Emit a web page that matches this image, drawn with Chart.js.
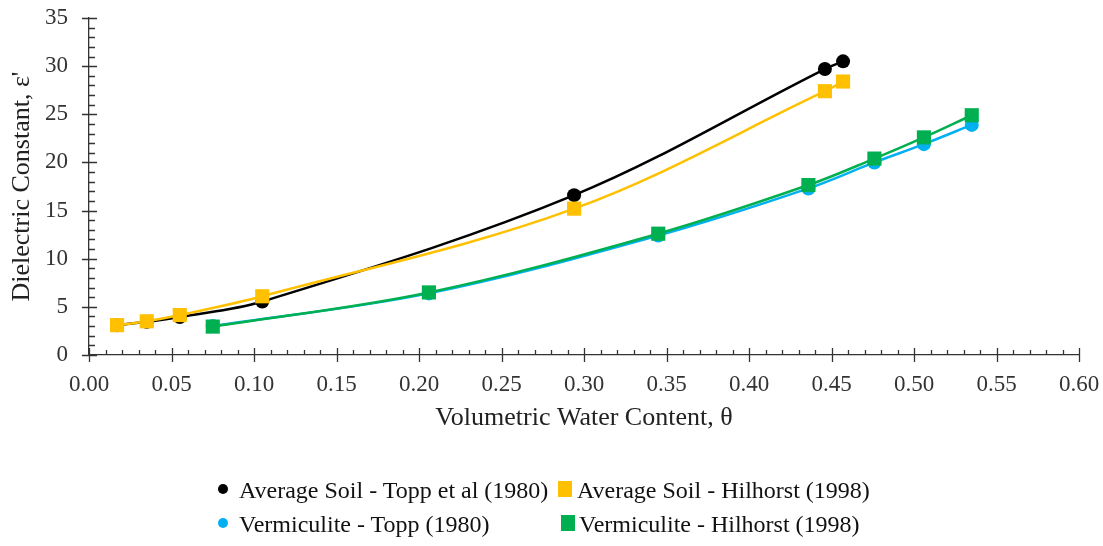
<!DOCTYPE html>
<html>
<head>
<meta charset="utf-8">
<script src="https://cdn.jsdelivr.net/npm/chart.js@4.4.1/dist/chart.umd.min.js"></script>
<style>
  html, body { margin: 0; padding: 0; background: #fff; }
  #wrap { position: relative; width: 1103px; height: 546px; overflow: hidden; }
  #c { position: absolute; left: 0; top: 0; }
  .lg { position: absolute; font-family: "Liberation Serif", "Times New Roman", serif; font-size: 24px; line-height: 24px; color: #111; white-space: nowrap; }
  .mk { position: absolute; }
</style>
</head>
<body>
<div id="wrap">
  <canvas id="c" width="1103" height="546"></canvas>
  <div id="legend"></div>
</div>
<script>
// ---- data ----
const avgTheta      = [0.017, 0.035, 0.055, 0.105, 0.294, 0.446, 0.457];
const avgTopp       = [3.1, 3.45, 3.95, 5.55, 16.6, 29.7, 30.5];
const avgHilhorst   = [3.1, 3.5, 4.15, 6.1, 15.2, 27.4, 28.4];
const vermTheta     = [0.075, 0.206, 0.345, 0.436, 0.476, 0.506, 0.535];
const vermTopp      = [3.0, 6.4, 12.4, 17.3, 20.0, 21.9, 23.9];
const vermHilhorst  = [2.95, 6.5, 12.6, 17.65, 20.4, 22.6, 24.9];

const seriesLabels = [
  "Average Soil - Topp et al (1980)",
  "Average Soil - Hilhorst (1998)",
  "Vermiculite - Topp (1980)",
  "Vermiculite - Hilhorst (1998)"
];
const seriesColors = ["#000000", "#FFC000", "#00B0F0", "#00B050"];
const seriesShapes = ["circle", "rect", "circle", "rect"];

const xMin = 0, xMax = 0.6, xStep = 0.05, xMinor = 0.01;
const yMin = 0, yMax = 35, yStep = 5, yMinor = 1;

const pts = (xs, ys) => xs.map((x, i) => ({ x: x, y: ys[i] }));
const seriesData = [
  pts(avgTheta, avgTopp),
  pts(avgTheta, avgHilhorst),
  pts(vermTheta, vermTopp),
  pts(vermTheta, vermHilhorst)
];

const datasets = seriesData.map((d, i) => ({
  label: seriesLabels[i],
  data: d,
  showLine: true,
  borderColor: seriesColors[i],
  backgroundColor: seriesColors[i],
  borderWidth: 2.5,
  pointStyle: seriesShapes[i],
  pointRadius: seriesShapes[i] === "rect" ? 10 : 7,
  pointBorderWidth: 0,
  tension: 0.35,
  order: 4 - i
}));

const FONT = "'Liberation Serif', 'Times New Roman', serif";
const AXIS = "#333333";

// minor / major tick marks drawn at scale positions
const tickPlugin = {
  id: "tickMarks",
  afterDraw(chart) {
    const ctx = chart.ctx;
    const xs = chart.scales.x, ys = chart.scales.y;
    const y0 = ys.getPixelForValue(yMin);
    const x0 = xs.getPixelForValue(xMin);
    ctx.save();
    ctx.strokeStyle = AXIS;
    ctx.lineWidth = 1.3;
    ctx.beginPath();
    const nx = Math.round((xMax - xMin) / xMinor);
    const per = Math.round(xStep / xMinor);
    for (let i = 0; i <= nx; i++) {
      const px = Math.round(xs.getPixelForValue(xMin + i * xMinor)) + 0.5;
      if (i % per === 0) { ctx.moveTo(px, y0 - 7); ctx.lineTo(px, y0 + 7); }
      else { ctx.moveTo(px, y0 - 5); ctx.lineTo(px, y0); }
    }
    const ny = Math.round((yMax - yMin) / yMinor);
    const pery = Math.round(yStep / yMinor);
    for (let j = 0; j <= ny; j++) {
      const py = Math.round(ys.getPixelForValue(yMin + j * yMinor)) + 0.5;
      if (j % pery === 0) { ctx.moveTo(x0 - 7, py); ctx.lineTo(x0 + 8, py); }
      else { ctx.moveTo(x0, py); ctx.lineTo(x0 + 6, py); }
    }
    ctx.stroke();
    ctx.restore();
  }
};

new Chart(document.getElementById("c"), {
  type: "line",
  data: { datasets: datasets },
  plugins: [tickPlugin],
  options: {
    responsive: false,
    animation: false,
    layout: { padding: { top: 18, right: 24, left: 0, bottom: 106 } },
    plugins: { legend: { display: false }, tooltip: { enabled: false } },
    scales: {
      x: {
        type: "linear",
        min: xMin, max: xMax,
        grid: { display: false, drawTicks: false },
        border: { display: true, color: AXIS, width: 1.3 },
        ticks: {
          stepSize: xStep,
          padding: 16,
          color: "#333",
          font: { family: FONT, size: 23 },
          callback: v => Number(v).toFixed(2),
          maxRotation: 0
        },
        title: {
          display: true,
          text: "Volumetric Water Content, θ",
          color: "#222",
          font: { family: FONT, size: 26 },
          padding: { top: 0, bottom: 6 }
        },
        afterFit(s) { s.height = 85; s.paddingLeft = 0; s.paddingRight = 0; }
      },
      y: {
        type: "linear",
        min: yMin, max: yMax,
        grid: { display: false, drawTicks: false },
        border: { display: true, color: AXIS, width: 1.3 },
        ticks: {
          stepSize: yStep,
          padding: 21,
          color: "#333",
          font: { family: FONT, size: 23 }
        },
        title: {
          display: true,
          text: "Dielectric Constant, ε'",
          color: "#222",
          font: { family: FONT, size: 26 },
          padding: { top: 7, bottom: 0 }
        },
        afterFit(s) { s.width = 89; s.paddingTop = 0; s.paddingBottom = 0; }
      }
    }
  }
});

// HTML legend (two rows, two columns) built from the dataset labels
const legendPos = [
  { mx: 223, my: 489, tx: 239, ty: 478 },
  { mx: 565, my: 489, tx: 577, ty: 478 },
  { mx: 223, my: 523, tx: 239, ty: 512 },
  { mx: 568, my: 523, tx: 579, ty: 512 }
];
const lg = document.getElementById("legend");
seriesLabels.forEach((lab, i) => {
  const p = legendPos[i];
  const m = document.createElement("div");
  m.className = "mk";
  if (seriesShapes[i] === "circle") {
    m.style.cssText = `left:${p.mx - 5}px;top:${p.my - 5}px;width:10px;height:10px;border-radius:50%;background:${seriesColors[i]}`;
  } else {
    m.style.cssText = `left:${p.mx - 7}px;top:${p.my - 8}px;width:14px;height:16px;background:${seriesColors[i]}`;
  }
  lg.appendChild(m);
  const t = document.createElement("div");
  t.className = "lg";
  t.style.left = p.tx + "px";
  t.style.top = p.ty + "px";
  t.textContent = lab;
  lg.appendChild(t);
});
</script>
</body>
</html>
